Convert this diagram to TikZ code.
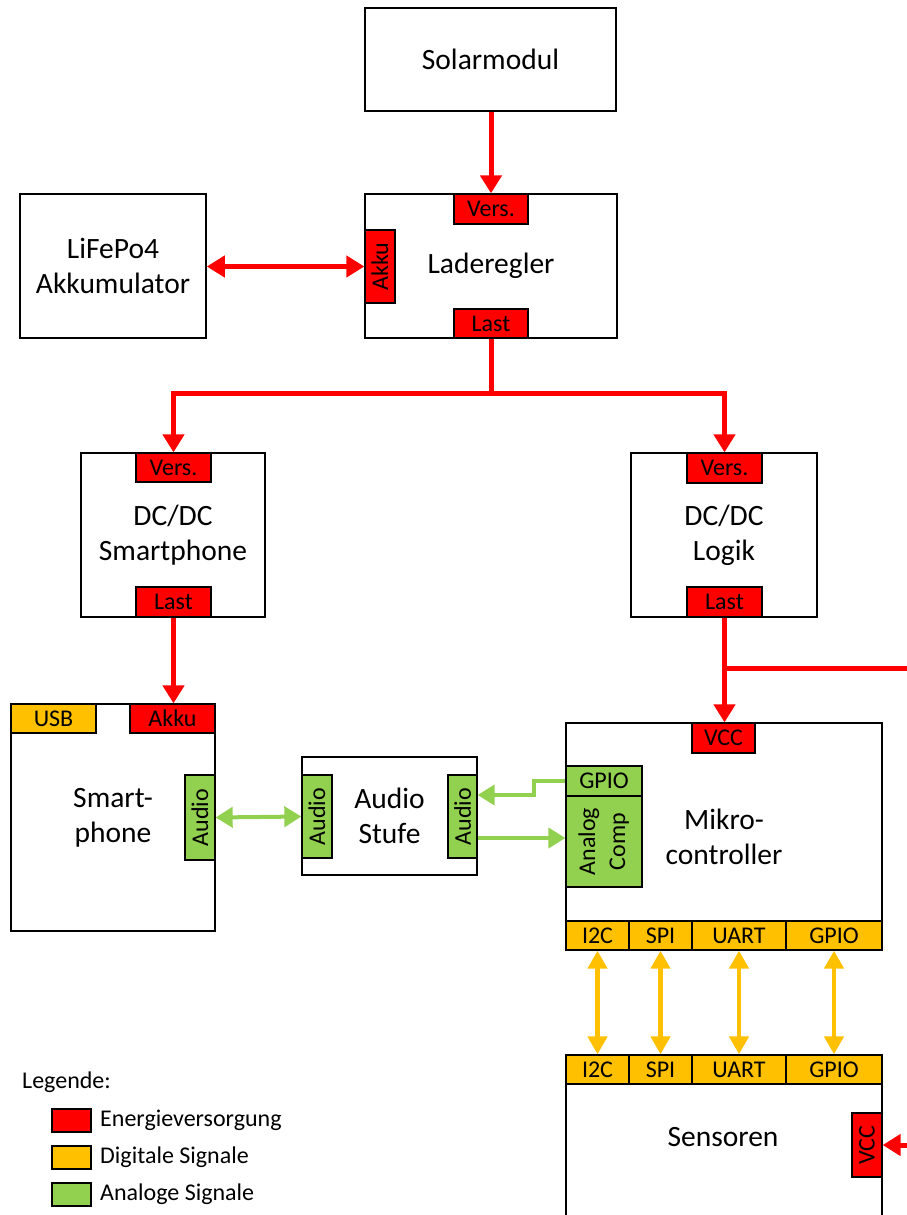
\documentclass[tikz,border=0pt]{standalone}
\usepackage{fontspec}
\setmainfont{Carlito}
\usepackage{graphicx}
\usetikzlibrary{arrows.meta,calc}
\definecolor{pwrred}{HTML}{FF0000}
\definecolor{digor}{HTML}{FFC000}
\definecolor{anagr}{HTML}{92D050}
\newcommand\mainsz{\fontsize{29.5}{35}\selectfont}
\newcommand\portsz{\fontsize{24}{30}\selectfont}
\tikzset{
  blk/.style={draw=black, line width=1.6pt, fill=white, align=center, inner sep=0pt, font=\mainsz},
  portbase/.style={draw=black, line width=1.3pt, inner sep=0pt, font=\portsz, align=center},
  portR/.style={portbase, fill=pwrred},
  portO/.style={portbase, fill=digor},
  portG/.style={portbase, fill=anagr},
  pwr/.style={draw=pwrred, line width=5pt, -{Triangle[width=21pt,length=18pt]}},
  pwrline/.style={draw=pwrred, line width=5pt},
  pwrboth/.style={draw=pwrred, line width=5pt, {Triangle[width=21pt,length=18pt]}-{Triangle[width=21pt,length=18pt]}},
  sig/.style={draw=anagr, line width=4pt, -{Triangle[width=20pt,length=17pt]}},
  sigboth/.style={draw=anagr, line width=4pt, {Triangle[width=20pt,length=17pt]}-{Triangle[width=20pt,length=17pt]}},
  digboth/.style={draw=digor, line width=4.5pt, {Triangle[width=19pt,length=18pt]}-{Triangle[width=19pt,length=18pt]}},
  legbox/.style={draw=black, line width=1.3pt, minimum width=39pt, minimum height=23pt, inner sep=0pt},
  legtxt/.style={anchor=west, font=\portsz, inner sep=0pt}
}
\begin{document}
\begin{tikzpicture}[x=1pt,y=-1pt]
\useasboundingbox (0,0) rectangle (907,1215);
\clip (0,0) rectangle (907,1215);

% main blocks
\node[blk, minimum width=251pt, minimum height=103pt] (solar) at (490.5,59.5) {Solarmodul};
\node[blk, minimum width=252pt, minimum height=144pt] (lade) at (491,266) {Laderegler};
\node[blk, minimum width=186pt, minimum height=144pt] (lifepo) at (113,266) {LiFePo4\\Akkumulator};
\node[blk, minimum width=184pt, minimum height=164pt] (dcs) at (173,535) {DC/DC\\Smartphone};
\node[blk, minimum width=186pt, minimum height=164pt] (dcl) at (724,535) {DC/DC\\Logik};
\node[blk, minimum width=204pt, minimum height=227pt] (sp) at (113,817.5) {Smart-\\phone};
\node[blk, minimum width=175pt, minimum height=118pt] (as) at (389.5,816) {Audio\\Stufe};
\node[blk, minimum width=316pt, minimum height=227pt] (mc) at (724,836.5) {Mikro-\\controller};
\node[blk, minimum width=316pt, minimum height=205pt] (sen) at (724,1157.5) {};
\node[font=\mainsz, inner sep=0pt] (senlbl) at (723,1137) {Sensoren};

% ports
\node[portR, minimum width=74pt, minimum height=30pt] (ladevers) at (491,209) {Vers.};
\node[portR, minimum width=74pt, minimum height=29pt] (ladelast) at (491,323.5) {Last};
\node[portR, minimum width=30pt, minimum height=73pt] (ladeakku) at (380,266.5) {\rotatebox{90}{Akku}};
\node[portR, minimum width=75pt, minimum height=29pt] (dcsvers) at (173.5,467.5) {Vers.};
\node[portR, minimum width=75pt, minimum height=30pt] (dcslast) at (173.5,602) {Last};
\node[portR, minimum width=75pt, minimum height=30pt] (dclvers) at (724.5,468) {Vers.};
\node[portR, minimum width=75pt, minimum height=30pt] (dcllast) at (724.5,602) {Last};
\node[portO, minimum width=85pt, minimum height=29pt] (spusb) at (53.5,718.5) {USB};
\node[portR, minimum width=85pt, minimum height=29pt] (spakku) at (172.5,718.5) {Akku};
\node[portG, minimum width=30pt, minimum height=85pt] (spaudio) at (200,817.5) {\rotatebox{90}{Audio}};
\node[portG, minimum width=30pt, minimum height=83pt] (asl) at (317,816.5) {\rotatebox{90}{Audio}};
\node[portG, minimum width=29pt, minimum height=83pt] (asr) at (462.5,816.5) {\rotatebox{90}{Audio}};
\node[portR, minimum width=63pt, minimum height=30pt] (mcvcc) at (723.5,738) {VCC};
\node[portG, minimum width=76pt, minimum height=30pt] (mcgpio) at (604,781) {GPIO};
\node[portG, minimum width=76pt, minimum height=91pt] (mcac) at (604,841.5) {\rotatebox{90}{\begin{tabular}{@{}c@{}}Analog\\Comp\end{tabular}}};
\node[portO, minimum width=63pt, minimum height=29pt] (mci2c) at (597.5,935.5) {I2C};
\node[portO, minimum width=63pt, minimum height=29pt] (mcspi) at (660.5,935.5) {SPI};
\node[portO, minimum width=94pt, minimum height=29pt] (mcuart) at (739,935.5) {UART};
\node[portO, minimum width=96pt, minimum height=29pt] (mcgpiob) at (834,935.5) {GPIO};
\node[portO, minimum width=63pt, minimum height=29pt] (seni2c) at (597.5,1069.5) {I2C};
\node[portO, minimum width=63pt, minimum height=29pt] (senspi) at (660.5,1069.5) {SPI};
\node[portO, minimum width=94pt, minimum height=29pt] (senuart) at (739,1069.5) {UART};
\node[portO, minimum width=96pt, minimum height=29pt] (sengpio) at (834,1069.5) {GPIO};
\node[portR, minimum width=30pt, minimum height=64pt] (senvcc) at (867,1145) {\rotatebox{90}{VCC}};

% power connectors
\draw[pwr] (solar.south -| ladevers.north) -- (ladevers.north);
\draw[pwrboth] (ladeakku.west -| lifepo.east) -- (ladeakku.west);
\coordinate (j1) at (491,393);
\draw[pwr] (ladelast.south) -- (j1) -| (dcsvers.north);
\draw[pwr] (j1) -| (dclvers.north);
\draw[pwr] (dcslast.south) -- (dcslast.south |- spakku.north);
\draw[pwr] (dcllast.south) -- (dcllast.south |- mcvcc.north);
\coordinate (j2) at (724.5,668);
\coordinate (rout) at (915,668);
\draw[pwrline] (j2) -- (rout);
\coordinate (rin) at (915,1145);
\draw[pwr] (rin) -- (senvcc.east);

% analog connectors
\draw[sigboth] (spaudio.east) -- (asl.west);
\draw[sig] (mcgpio.west) -- ++(-31,0) |- ([yshift=21.5pt]asr.east);
\draw[sig] ([yshift=-21.5pt]asr.east) -- ([yshift=-21.5pt]asr.east -| mcac.west);

% digital connectors
\draw[digboth] (mci2c.south) -- (seni2c.north);
\draw[digboth] (mcspi.south) -- (senspi.north);
\draw[digboth] (mcuart.south) -- (senuart.north);
\draw[digboth] (mcgpiob.south) -- (sengpio.north);

% legend
\node[legtxt] (legtitle) at (22,1082) {Legende:};
\node[legbox, fill=pwrred] (leg1) at (71.5,1120.5) {};
\node[legtxt] (leg1t) at (100,1120.5) {Energieversorgung};
\node[legbox, fill=digor] (leg2) at (71.5,1157.5) {};
\node[legtxt] (leg2t) at (100,1157.5) {Digitale Signale};
\node[legbox, fill=anagr] (leg3) at (71.5,1194.5) {};
\node[legtxt] (leg3t) at (100,1194.5) {Analoge Signale};
\end{tikzpicture}
\end{document}
